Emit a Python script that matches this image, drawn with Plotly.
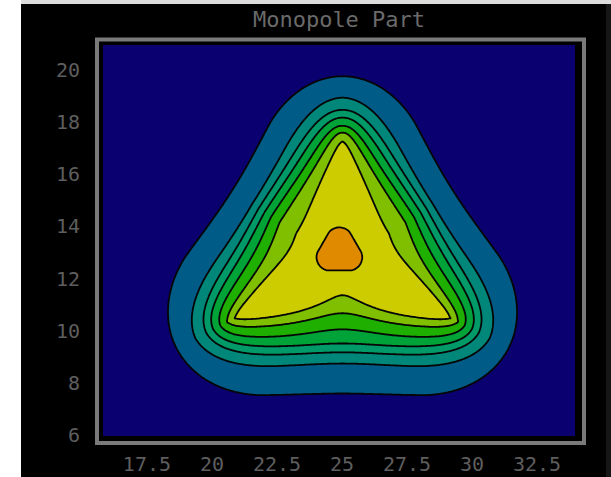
import numpy as np
import plotly.graph_objects as go

TITLE = "Monopole Part"
x_tick_vals = [17.5, 20, 22.5, 25, 27.5, 30, 32.5]
x_tick_text = ["17.5", "20", "22.5", "25", "27.5", "30", "32.5"]
y_tick_vals = [6, 8, 10, 12, 14, 16, 18, 20]
y_tick_text = ["6", "8", "10", "12", "14", "16", "18", "20"]
x_range = [15.81, 33.96]
y_range = [5.96, 20.96]

# Nested level boundaries of the three-fold distribution, outermost first.
# Radii (data units) from the centre towards a vertex, a side edge and the bottom edge.
centre_x, centre_y = 25.02, 12.59
vertex_radius = [7.17, 6.35, 5.88, 5.58, 5.27, 5.00, 4.68]
side_radius = [5.08, 4.15, 3.85, 3.58, 3.27, 2.88, 2.12]
bottom_radius = [5.00, 3.85, 3.42, 3.08, 2.54, 1.92, 1.23]
corner_power = [1.8, 2.4, 2.9, 3.5, 4.5, 7.0, 12.0]
bow_power = [1.0, 0.5, 0.5, 0.5, 0.5, 0.3, 0.3]
corner_lift_deg = 3.4  # lower corners sit a little above the 210/330 degree directions

# Central maximum
core_x, core_y = 24.90, 13.03
core_apothem = 0.72
core_power = 1.6

band_colors = [
    "#0b006f",  # background
    "#005b87",
    "#00877a",
    "#009a68",
    "#00a338",
    "#1eaf00",
    "#7fbf00",
    "#cccc00",
    "#e08a00",  # core
]

EDGE_NORMALS = np.radians([30.0, 150.0, 270.0])


def tri_radius(phi, apothem, power):
    acc = np.zeros_like(phi)
    for a in EDGE_NORMALS:
        acc += np.clip(np.cos(phi - a), 0.0, None) ** power
    return apothem / acc ** (1.0 / power)


def level_radius(phi, k):
    p = corner_power[k]
    apothem = vertex_radius[k] / 2 ** (1 - 1 / p)
    side_w = np.clip((np.sin(phi) + 1.0) / 1.5, 0.0, 1.0)
    edge = bottom_radius[k] + (side_radius[k] - bottom_radius[k]) * side_w
    bow = (edge - apothem) * ((1.0 + np.sin(3 * phi)) / 2.0) ** bow_power[k]
    return tri_radius(phi, apothem, p) + bow


soft = 0.05
xs = np.linspace(x_range[0], x_range[1], 460)
ys = np.linspace(y_range[0], y_range[1], 380)
X, Y = np.meshgrid(xs, ys)

dx, dy = X - centre_x, Y - centre_y
r = np.hypot(dx, dy)
phi = np.arctan2(dy, dx)
phi = phi - np.radians(corner_lift_deg) * np.cos(phi)
Z = np.zeros_like(X)
for k in range(len(vertex_radius)):
    Z += 0.5 * (1 + np.tanh((level_radius(phi, k) - r) / soft))

cx, cy = X - core_x, Y - core_y
rc = np.hypot(cx, cy)
phic = np.arctan2(cy, cx)
Z += 0.5 * (1 + np.tanh((tri_radius(phic, core_apothem, core_power) - rc) / soft))
Z = np.round(Z, 3)

n_bands = len(band_colors)
colorscale = [[i / (n_bands - 1), c] for i, c in enumerate(band_colors)]

fig = go.Figure(
    go.Contour(
        x=xs,
        y=ys,
        z=Z,
        autocontour=False,
        contours=dict(start=0.5, end=n_bands - 1.5, size=1, coloring="fill", showlines=True),
        line=dict(color="#050505", width=1.8, smoothing=1),
        colorscale=colorscale,
        showscale=False,
        hoverinfo="skip",
    )
)

W, H = 611, 477
L, R, T, B = 103, 36, 45, 41
pw, ph = W - L - R, H - T - B


def px_x(v):
    return (v - L) / pw


def px_y(v):
    return (H - B - v) / ph


tick_font = dict(family="DejaVu Sans Mono", size=20, color="#5e5e5e")

fig.update_layout(
    width=W,
    height=H,
    autosize=False,
    margin=dict(l=L, r=R, t=T, b=B, autoexpand=False),
    paper_bgcolor="#000000",
    plot_bgcolor=band_colors[0],
    title=dict(
        text=TITLE,
        x=0.5,
        xref="paper",
        y=1 - 19 / H,
        yref="container",
        yanchor="middle",
        font=dict(family="DejaVu Sans Mono", size=22, color="#6a6a6a"),
    ),
    xaxis=dict(
        range=x_range,
        tickvals=x_tick_vals,
        ticktext=x_tick_text,
        showgrid=False,
        zeroline=False,
        showline=False,
        ticks="",
        tickfont=tick_font,
        ticklabelstandoff=14,
        automargin=False,
    ),
    yaxis=dict(
        range=y_range,
        tickvals=y_tick_vals,
        ticktext=y_tick_text,
        showgrid=False,
        zeroline=False,
        showline=False,
        ticks="",
        tickfont=tick_font,
        ticklabelstandoff=22,
        automargin=False,
    ),
    shapes=[
        # frame around the plotting area
        dict(type="rect", xref="paper", yref="paper",
             x0=px_x(97), x1=px_x(584), y0=px_y(443), y1=px_y(39.5),
             line=dict(color="#7a7a7a", width=4), fillcolor="rgba(0,0,0,0)", layer="above"),
        # page edges
        dict(type="rect", xref="paper", yref="paper",
             x0=px_x(0), x1=px_x(21), y0=px_y(H), y1=px_y(0),
             line=dict(width=0), fillcolor="#ffffff"),
        dict(type="rect", xref="paper", yref="paper",
             x0=px_x(21), x1=px_x(W), y0=px_y(4), y1=px_y(0),
             line=dict(width=0), fillcolor="#dcdcdc"),
        dict(type="rect", xref="paper", yref="paper",
             x0=px_x(606), x1=px_x(W), y0=px_y(H), y1=px_y(4),
             line=dict(width=0), fillcolor="#161616"),
    ],
)

fig.write_html("out.html", config={"displayModeBar": False})
